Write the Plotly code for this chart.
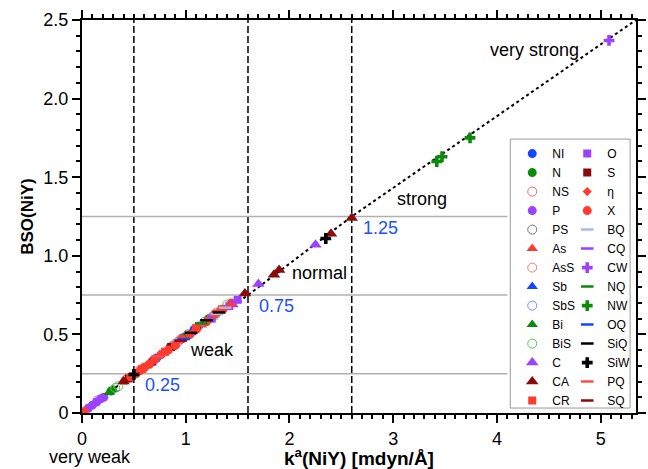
import plotly.graph_objects as go

# ---------------- data ----------------
k_NI = [0.72, 0.98, 1.08];                 bso_NI = [0.35, 0.48, 0.53]
k_N = [0.28, 0.85, 1.22];                  bso_N = [0.14, 0.42, 0.60]
k_NS = [0.15, 0.42, 0.68, 0.95, 1.25];     bso_NS = [0.08, 0.21, 0.33, 0.47, 0.61]
k_P = [0.06, 0.10, 0.14, 0.18, 0.21];      bso_P = [0.03, 0.05, 0.07, 0.09, 0.10]
k_PS = [0.88, 1.02, 1.12];                 bso_PS = [0.43, 0.50, 0.55]
k_As = [0.62, 0.78, 1.15];                 bso_As = [0.30, 0.38, 0.56]
k_AsS = [0.55, 0.90, 1.30];                bso_AsS = [0.27, 0.44, 0.64]
k_Sb = [0.82, 1.05];                       bso_Sb = [0.40, 0.51]
k_SbS = [0.70, 0.92, 1.18];                bso_SbS = [0.34, 0.45, 0.58]
k_Bi = [0.26, 0.30, 0.75, 1.00];           bso_Bi = [0.13, 0.15, 0.37, 0.49]
k_BiS = [0.32, 0.35, 0.60, 1.28, 1.40];    bso_BiS = [0.16, 0.17, 0.29, 0.62, 0.69]
k_C = [1.45, 1.70, 2.25];                  bso_C = [0.69, 0.82, 1.07]
k_CA = [0.40, 0.66, 1.57, 1.85, 1.90, 2.40, 2.60]
bso_CA = [0.20, 0.32, 0.76, 0.88, 0.91, 1.14, 1.24]
k_CR = [0.58, 0.80, 1.10, 1.35];           bso_CR = [0.28, 0.39, 0.54, 0.66]
k_O = [1.25, 1.42, 1.50];                  bso_O = [0.60, 0.68, 0.72]
k_S = [0.45, 0.86];                        bso_S = [0.22, 0.42]
k_eta = [0.64, 1.32];                      bso_eta = [0.31, 0.65]
k_X = [0.02, 0.47, 0.52, 0.56, 0.60, 0.65, 0.70, 0.76, 0.83, 0.90, 0.96,
       1.04, 1.10, 1.20, 1.28, 1.36, 1.44]
bso_X = [0.01, 0.23, 0.25, 0.27, 0.29, 0.31, 0.34, 0.37, 0.40, 0.43, 0.47,
         0.50, 0.53, 0.58, 0.63, 0.66, 0.70]
k_BQ = [1.30, 1.38];                       bso_BQ = [0.63, 0.67]
k_CQ = [1.48];                             bso_CQ = [0.71]
k_CW = [5.08];                             bso_CW = [2.37]
k_NQ = [1.15];                             bso_NQ = [0.57]
k_NW = [3.42, 3.47, 3.74];                 bso_NW = [1.60, 1.63, 1.75]
k_OQ = [0.98];                             bso_OQ = [0.47]
k_SiQ = [1.05, 1.20, 1.32];                bso_SiQ = [0.51, 0.59, 0.64]
k_SiW = [0.50, 2.35];                      bso_SiW = [0.245, 1.11]
k_PQ = [0.73];                             bso_PQ = [0.36]
k_SQ = [0.95];                             bso_SQ = [0.46]

# power-relationship curve (dotted), read at its visible anchor points
k_fit = [0.0, 0.5, 1.6, 2.6, 5.34]
bso_fit = [0.0, 0.25, 0.75, 1.25, 2.5]

# bond-strength boundaries
k_bounds = [0.5, 1.6, 2.6]
bso_bounds = [0.25, 0.75, 1.25]
bso_bound_labels = ["0.25", "0.75", "1.25"]

x_ticks = [0, 1, 2, 3, 4, 5]
y_ticks = [0, 0.5, 1.0, 1.5, 2.0, 2.5]
y_tick_text = ["0", "0.5", "1.0", "1.5", "2.0", "2.5"]

col1_names = ["NI", "N", "NS", "P", "PS", "As", "AsS", "Sb", "SbS", "Bi",
              "BiS", "C", "CA", "CR"]
col2_names = ["O", "S", "η", "X", "BQ", "CQ", "CW", "NQ", "NW", "OQ",
              "SiQ", "SiW", "PQ", "SQ"]

series = {
    "NI": (k_NI, bso_NI), "N": (k_N, bso_N), "NS": (k_NS, bso_NS),
    "P": (k_P, bso_P), "PS": (k_PS, bso_PS), "As": (k_As, bso_As),
    "AsS": (k_AsS, bso_AsS), "Sb": (k_Sb, bso_Sb), "SbS": (k_SbS, bso_SbS),
    "Bi": (k_Bi, bso_Bi), "BiS": (k_BiS, bso_BiS), "C": (k_C, bso_C),
    "CA": (k_CA, bso_CA), "CR": (k_CR, bso_CR), "O": (k_O, bso_O),
    "S": (k_S, bso_S), "η": (k_eta, bso_eta), "X": (k_X, bso_X),
    "BQ": (k_BQ, bso_BQ), "CQ": (k_CQ, bso_CQ), "CW": (k_CW, bso_CW),
    "NQ": (k_NQ, bso_NQ), "NW": (k_NW, bso_NW), "OQ": (k_OQ, bso_OQ),
    "SiQ": (k_SiQ, bso_SiQ), "SiW": (k_SiW, bso_SiW), "PQ": (k_PQ, bso_PQ),
    "SQ": (k_SQ, bso_SQ),
}

# ---------------- styles ----------------
BLUE = "#1446ff"; GREEN = "#0b8a0b"; PURPLE = "#9b42ff"; RED = "#ff3b30"
DRED = "#8b0b0b"
styles = {
    "NI": ("circle", BLUE, 9), "N": ("circle", GREEN, 9),
    "NS": ("circle-open", "#df6b6b", 9), "P": ("circle", PURPLE, 9),
    "PS": ("circle-open", "#777777", 9), "As": ("triangle-up", RED, 10),
    "AsS": ("circle-open", "#f27c7c", 9), "Sb": ("triangle-up", BLUE, 10),
    "SbS": ("circle-open", "#6e8cff", 9), "Bi": ("triangle-up", GREEN, 10),
    "BiS": ("circle-open", "#5cbf5c", 9), "C": ("triangle-up", PURPLE, 11),
    "CA": ("triangle-up", DRED, 11), "CR": ("square", RED, 8),
    "O": ("square", PURPLE, 8), "S": ("square", DRED, 8),
    "η": ("diamond", RED, 7), "X": ("circle", RED, 9),
    "BQ": ("line-ew", "#a8b8ea", 9), "CQ": ("line-ew", PURPLE, 9),
    "CW": ("cross", PURPLE, 9), "NQ": ("line-ew", GREEN, 9),
    "NW": ("cross", GREEN, 9), "OQ": ("line-ew", BLUE, 9),
    "SiQ": ("line-ew", "#000000", 9), "SiW": ("cross", "#000000", 9),
    "PQ": ("line-ew", "#ff4a4a", 9), "SQ": ("line-ew", DRED, 9),
}

FONT = "Liberation Sans, Arial, Helvetica, sans-serif"

fig = go.Figure()

fig.add_trace(go.Scatter(x=k_fit, y=bso_fit, mode="lines",
                         line=dict(color="black", width=2, dash="dot"),
                         showlegend=False, hoverinfo="skip"))

for leg, names in (("legend", col1_names), ("legend2", col2_names)):
    for nm in names:
        sym, col, sz = styles[nm]
        kx, by = series[nm]
        if sym == "line-ew":
            marker = dict(symbol=sym, size=sz, line=dict(color=col, width=2.5))
        elif sym == "circle-open":
            marker = dict(symbol=sym, size=sz, color=col, line=dict(color=col, width=1))
        else:
            marker = dict(symbol=sym, size=sz, color=col, line=dict(width=0))
        fig.add_trace(go.Scatter(x=kx, y=by, mode="markers", name=nm,
                                 marker=marker, legend=leg))

shapes = []
for kb in k_bounds:
    shapes.append(dict(type="line", xref="x", yref="y", x0=kb, x1=kb, y0=0, y1=2.5,
                       line=dict(color="black", width=1.5, dash="7px,3px"), layer="below"))
for b in bso_bounds:
    shapes.append(dict(type="line", xref="x", yref="y", x0=0, x1=4.1, y0=b, y1=b,
                       line=dict(color="#b0b0b0", width=1.5), layer="below"))

# legend frame (pixel -> paper: x=(px-82)/564, y=(416-py)/396)
shapes.append(dict(type="rect", xref="paper", yref="paper",
                   x0=(518 - 82) / 564, x1=(640 - 82) / 564,
                   y0=(416 - 411) / 396, y1=(416 - 140) / 396,
                   line=dict(color="#9a9a9a", width=1), fillcolor="white", layer="below"))

ann = []
for kb, b, t in zip(k_bounds, bso_bounds, bso_bound_labels):
    ann.append(dict(x=kb, y=b, xref="x", yref="y", text=t, showarrow=False,
                    xanchor="left", yanchor="middle", xshift=9, yshift=-11,
                    font=dict(size=18, color="#2050ff", family=FONT)))
for txt, x, y in (("weak", 1.25, 0.40), ("normal", 2.29, 0.89),
                  ("strong", 3.28, 1.36), ("very strong", 4.36, 2.31)):
    ann.append(dict(x=x, y=y, xref="x", yref="y", text=txt, showarrow=False,
                    xanchor="center", yanchor="middle",
                    font=dict(size=18, color="black", family=FONT)))
ann.append(dict(x=0.073, y=-0.112, xref="x", yref="paper", text="very weak",
                showarrow=False, xanchor="center", yanchor="middle",
                font=dict(size=18, color="black", family=FONT)))

axis_common = dict(showline=True, linecolor="black", linewidth=2, mirror="allticks",
                   ticks="outside", ticklen=8, tickwidth=2, tickcolor="black",
                   showgrid=False, zeroline=False,
                   tickfont=dict(size=18, color="black", family=FONT))

leg_common = dict(xanchor="left", yanchor="top", bgcolor="rgba(0,0,0,0)", borderwidth=0,
                  itemwidth=30, font=dict(size=12, family=FONT), tracegroupgap=0)

fig.update_layout(
    width=648, height=469,
    margin=dict(l=82, r=2, t=20, b=53),
    paper_bgcolor="white", plot_bgcolor="white",
    font=dict(family=FONT, color="black"),
    xaxis=dict(range=[0, 5.34], tickvals=x_ticks,
               minor=dict(dtick=0.1, ticklen=4, tickwidth=1.5, tickcolor="black", ticks="outside"),
               title=dict(text="<b>k<sup>a</sup>(NiY) [mdyn/Å]</b>", font=dict(size=19, family=FONT),
                          standoff=5),
               **axis_common),
    yaxis=dict(range=[0, 2.5], tickvals=y_ticks, ticktext=y_tick_text,
               minor=dict(dtick=0.1, ticklen=4, tickwidth=1.5, tickcolor="black", ticks="outside"),
               title=dict(text="<b>BSO(NiY)</b>", font=dict(size=17, family=FONT), standoff=5),
               **axis_common),
    legend=dict(x=(520 - 82) / 564, y=(416 - 140) / 396, **leg_common),
    legend2=dict(x=(576 - 82) / 564, y=(416 - 140) / 396, **leg_common),
    shapes=shapes, annotations=ann,
)

fig.write_html("out.html")
